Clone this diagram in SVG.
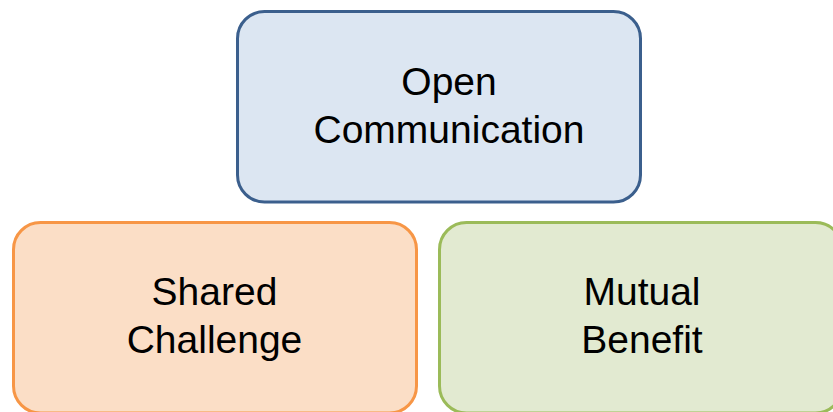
<svg xmlns="http://www.w3.org/2000/svg" width="833" height="412" viewBox="0 0 833 412">
  <style>
    .box { stroke-width: 3; }
    .lbl { font-family: "Liberation Sans", Arial, sans-serif; font-size: 39px; fill: #000; text-anchor: middle; }
  </style>
  <rect width="833" height="412" fill="#ffffff"/>
  <g id="connectors"></g>
  <g id="node-open-communication">
    <rect class="box" x="237.5" y="11.5" width="403" height="190.5" rx="27" ry="27" fill="#dce6f2" stroke="#3b5f8d"/>
    <text class="lbl" x="449" y="95">Open</text>
    <text class="lbl" x="449" y="143">Communication</text>
  </g>
  <g id="node-shared-challenge">
    <rect class="box" x="13.5" y="222.5" width="403" height="190.5" rx="27" ry="27" fill="#fbdec6" stroke="#f79646"/>
    <text class="lbl" x="214.5" y="305">Shared</text>
    <text class="lbl" x="214.5" y="353">Challenge</text>
  </g>
  <g id="node-mutual-benefit">
    <rect class="box" x="439.5" y="222.5" width="403" height="190.5" rx="27" ry="27" fill="#e2ead1" stroke="#9bbb59"/>
    <text class="lbl" x="642" y="305">Mutual</text>
    <text class="lbl" x="642" y="353">Benefit</text>
  </g>
</svg>
